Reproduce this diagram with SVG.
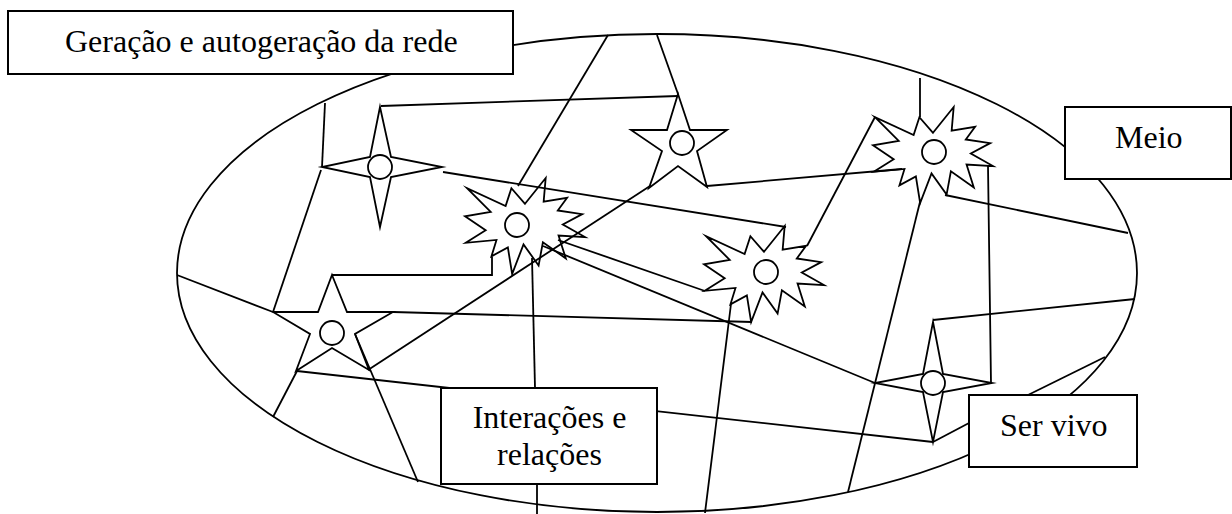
<svg xmlns="http://www.w3.org/2000/svg" width="1232" height="514" viewBox="0 0 1232 514">
<style>
.ln{stroke:#000;stroke-width:1.8;fill:none}
.sh{stroke:#000;stroke-width:1.8;fill:none;stroke-linejoin:miter;stroke-miterlimit:20}
.ci{stroke:#000;stroke-width:1.8;fill:none}
.bx{stroke:#000;stroke-width:2;fill:#fff}
.tx{font-family:"Liberation Serif","Times New Roman",serif;font-size:32px;fill:#000}
</style>
<defs>
<path id="burst" d="M60,25.78 L80.68,0 L78.64,23.66 L102.11,19.81 L92.78,32.51 L117.2,36.16 L97.81,46.55 L120,59.07 L93.54,57.52 L100.8,80.42 L77.89,64.25 L73.6,87.54 L58.51,66.37 L47.14,96 L42.86,69.46 L26.46,78.3 L31.49,61.94 L0.76,64.83 L20.68,52.33 L0,38.28 L25.7,33.86 L2.05,10.2 L40.62,28.09 L46.4,10.2 Z"/>
</defs>
<rect width="1232" height="514" fill="#fff"/>
<g id="rede">
<ellipse cx="657" cy="273" rx="480" ry="239" class="ln"/>
</g>
<g id="connectors">
<line class="ln" x1="381" y1="106" x2="678" y2="96"/>
<line class="ln" x1="325" y1="103" x2="322" y2="167"/>
<line class="ln" x1="321" y1="170" x2="273" y2="312"/>
<line class="ln" x1="443" y1="172" x2="786" y2="227"/>
<line class="ln" x1="608" y1="35" x2="518" y2="186"/>
<line class="ln" x1="657" y1="35" x2="678" y2="94"/>
<line class="ln" x1="707" y1="186" x2="902" y2="169"/>
<line class="ln" x1="650" y1="186" x2="368" y2="370"/>
<line class="ln" x1="875" y1="117" x2="807" y2="246"/>
<line class="ln" x1="920" y1="78" x2="920" y2="117"/>
<line class="ln" x1="945" y1="195" x2="1128" y2="233"/>
<polyline class="ln" points="993,166 988,166 991,383 992,383"/>
<line class="ln" x1="920" y1="202" x2="848" y2="492"/>
<line class="ln" x1="1135" y1="299" x2="933" y2="320"/>
<line class="ln" x1="558" y1="240" x2="705" y2="291"/>
<line class="ln" x1="543" y1="246" x2="875" y2="383"/>
<polyline class="ln" points="332,275 492,275 492,257"/>
<line class="ln" x1="532" y1="258" x2="535" y2="388"/>
<line class="ln" x1="537" y1="484" x2="537" y2="514"/>
<line class="ln" x1="393" y1="312" x2="752" y2="322"/>
<line class="ln" x1="177" y1="275" x2="273" y2="312"/>
<line class="ln" x1="297" y1="371" x2="273" y2="417"/>
<line class="ln" x1="297" y1="371" x2="933" y2="442"/>
<line class="ln" x1="355" y1="334" x2="418" y2="482"/>
<line class="ln" x1="731" y1="304" x2="705" y2="513"/>
<line class="ln" x1="933" y1="442" x2="969" y2="423"/>
<line class="ln" x1="1105" y1="357" x2="1028" y2="395"/>
</g>
<g id="star-a">
<polygon class="sh" points="380,107 391,157 442,167 391,177 380,227 370,177 322,167 370,157"/>
<circle class="ci" cx="380" cy="167" r="12"/>
</g>
<g id="star-b">
<polygon class="sh" points="678,94 690,130 727,130 697,151 707,187 678,166 649,188 662,151 631,130 667,130"/>
<circle class="ci" cx="682" cy="143" r="12"/>
</g>
<g id="burst-c">
<use href="#burst" class="sh" transform="translate(465,178)"/>
<circle class="ci" cx="517" cy="225" r="12"/>
</g>
<g id="star-s">
<polygon class="sh" points="332,275 347,312 393,312 355,334 369,370 332,348 296,371 310,334 273,312 318,312"/>
<circle class="ci" cx="332" cy="333" r="12"/>
</g>
<g id="burst-d">
<use href="#burst" class="sh" transform="translate(704,226)"/>
<circle class="ci" cx="766" cy="272" r="12"/>
</g>
<g id="burst-e">
<use href="#burst" class="sh" transform="translate(873,107)"/>
<circle class="ci" cx="934" cy="152" r="12"/>
</g>
<g id="star-f">
<polygon class="sh" points="933,322 943,374 992,383 943,392 933,442 923,392 875,383 923,374"/>
<circle class="ci" cx="933" cy="383" r="12"/>
</g>
<g id="box-geracao">
<rect class="bx" x="8" y="11" width="505" height="63"/>
<text class="tx" x="65" y="52">Geração e autogeração da rede</text>
</g>
<g id="box-meio">
<rect class="bx" x="1065" y="107" width="166" height="72"/>
<text class="tx" x="1115" y="148">Meio</text>
</g>
<g id="box-interacoes">
<rect class="bx" x="441" y="388" width="216" height="96"/>
<text class="tx" x="549.5" y="428" text-anchor="middle">Interações e</text>
<text class="tx" x="549.5" y="465" text-anchor="middle">relações</text>
</g>
<g id="box-servivo">
<rect class="bx" x="969" y="395" width="168" height="72"/>
<text class="tx" x="1000" y="436">Ser vivo</text>
</g>
</svg>
